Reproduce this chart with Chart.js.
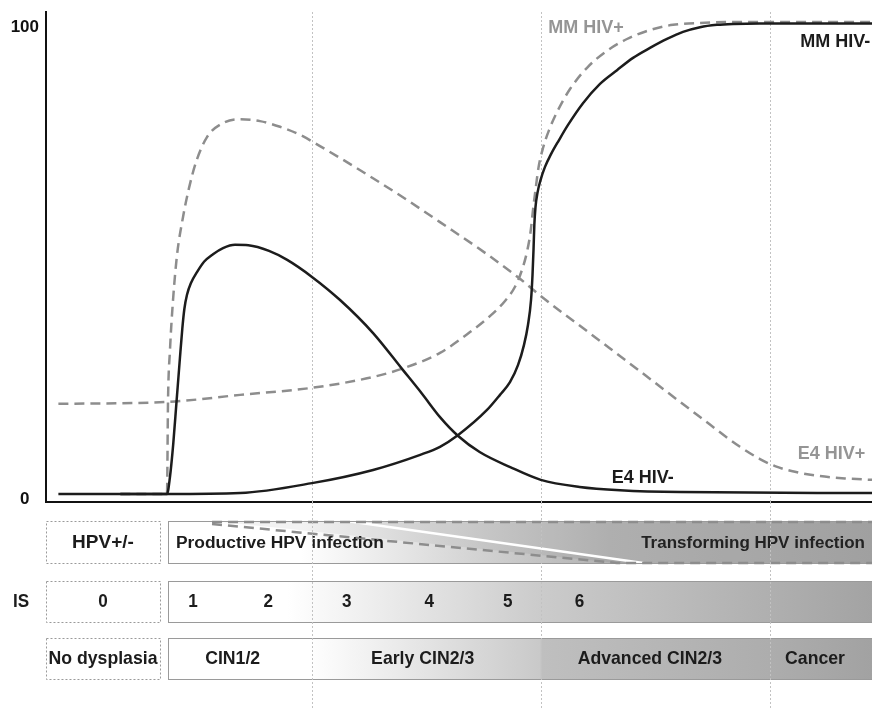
<!DOCTYPE html>
<html lang="en">
<head>
<meta charset="UTF-8" />
<title>HPV progression and HIV</title>
<script src="https://cdn.jsdelivr.net/npm/chart.js"></script>
<style>
  * { margin: 0; padding: 0; box-sizing: border-box; }
  body { background: #fff; width: 872px; height: 710px; overflow: hidden; }
  .wrap { position: relative; width: 872px; height: 710px; }
</style>
</head>
<body>
<div class="wrap"><canvas id="chart"></canvas></div>
<script>
// curves as [progression, level] pairs
const e4HivNeg = [[1.5,0],[14.65,0],[15.0,3.5],[15.4,10.5],[15.8,19.5],[16.2,28.5],[16.5,35.0],[16.75,39.2],[17.07,42.2],[17.55,44.7],[18.28,47.0],[19.13,49.2],[20.22,50.8],[21.43,52.1],[22.88,52.8],[24.5,52.7],[27.0,51.5],[29.2,49.6],[32.2,46.0],[35.6,41.1],[39.6,34.1],[43.2,26.3],[45.5,21.3],[47.7,16.3],[49.9,12.3],[52.5,8.9],[56.2,5.7],[59.9,3.0],[64.6,1.5],[69.5,0.8],[76.8,0.4],[100,0.2]];
const e4HivPos = [[9.0,0],[14.65,0],[14.77,19.5],[15.01,30.5],[15.38,41.1],[15.86,50.6],[16.59,58.7],[17.31,64.8],[18.16,70.3],[19.49,75.6],[21.43,78.6],[23.49,79.4],[25.91,79.0],[28.33,77.8],[30.75,76.1],[33.17,73.7],[35.59,71.2],[39.59,66.9],[43.7,62.3],[47.7,57.6],[53.39,50.8],[57.38,45.6],[59.93,41.9],[65.5,34.5],[71.55,26.5],[79.18,16.3],[84.02,10.0],[86.44,7.4],[88.26,5.9],[90.68,4.7],[93.7,3.8],[96.73,3.3],[100,3.0]];
const mmHivNeg = [[9.0,0],[14.65,0],[23.5,0.2],[32.2,2.3],[39.6,5.1],[45.3,8.3],[47.7,10.0],[49.9,12.5],[53.39,17.8],[54.96,21.0],[56.17,23.7],[57.14,27.3],[57.87,31.6],[58.35,35.8],[58.72,41.1],[58.9,46.4],[59.02,51.7],[59.12,57.0],[59.26,60.8],[59.5,63.8],[59.87,66.5],[60.41,69.3],[61.14,72.0],[62.11,75.0],[63.2,78.2],[65.01,82.8],[67.07,86.9],[69.13,89.8],[71.07,92.4],[73.12,94.5],[75.18,96.4],[77.12,97.9],[79.18,98.9],[81.23,99.4],[83.17,99.6],[86.4,99.7],[100,99.7]];
const mmHivPos = [[1.5,19.1],[14.65,19.5],[23.5,21.0],[32.2,22.5],[39.6,24.8],[43.7,26.9],[47.7,29.9],[51.33,34.3],[53.75,37.7],[55.57,40.9],[56.78,43.9],[57.63,47.5],[58.23,51.3],[58.66,55.5],[58.96,60.2],[59.26,64.4],[59.62,69.1],[60.17,73.3],[60.9,77.1],[61.86,80.9],[63.44,85.8],[65.5,90.3],[67.92,93.9],[70.34,96.4],[73.12,98.3],[75.91,99.4],[79.18,99.8],[84.02,100.0],[100,100.0]];

const yTicks = [0, 100];
const stageLines = [32.2, 59.9, 87.7];

// curve names: text, x, y, align
const curveNames = [['MM HIV+',60.8,98.7,'left'],['MM HIV-',99.8,95.8,'right'],['E4 HIV-',68.5,3.3,'left'],['E4 HIV+',91.0,8.4,'left']];

const hpvLabels = ['HPV+/-', 'Productive HPV infection', 'Transforming HPV infection'];
const isLabels = ['0', '1', '2', '3', '4', '5', '6'];
const isPos = [6.9, 17.8, 26.9, 36.4, 46.4, 55.9, 64.6];
const cinLabels = ['No dysplasia', 'CIN1/2', 'Early CIN2/3', 'Advanced CIN2/3', 'Cancer'];
const cinPos = [6.9, 22.6, 45.6, 73.1, 93.1];

const FONT = '"Liberation Sans", Arial, sans-serif';
const BLACK = '#1c1c1c';
const GREY = '#8d8d8d';

function pts(arr) { return arr.map(p => ({ x: p[0], y: p[1] })); }

function label(ctx, text, x, y, align, color, size, squeeze) {
  ctx.save();
  ctx.font = 'bold ' + size + 'px ' + FONT;
  ctx.fillStyle = color;
  ctx.textAlign = align;
  ctx.textBaseline = 'middle';
  ctx.translate(x, y);
  ctx.scale(squeeze || 1, 1);
  ctx.fillText(text, 0, 0);
  ctx.restore();
}

function dottedBox(ctx, x0, y0, x1, y1) {
  ctx.save();
  ctx.strokeStyle = '#9a9a9a';
  ctx.lineWidth = 1;
  ctx.setLineDash([2, 2]);
  ctx.strokeRect(x0 + 0.5, y0 + 0.5, x1 - x0, y1 - y0);
  ctx.restore();
}

function stageDots(chart, y0, y1) {
  const { ctx, scales: { x } } = chart;
  ctx.save();
  ctx.strokeStyle = '#c2c2c2';
  ctx.lineWidth = 1;
  ctx.setLineDash([2, 2]);
  stageLines.forEach(v => {
    const px = Math.round(x.getPixelForValue(v)) + 0.5;
    ctx.beginPath();
    ctx.moveTo(px, y0);
    ctx.lineTo(px, y1);
    ctx.stroke();
  });
  ctx.restore();
}

const bands = {
  id: 'bands',
  beforeDatasetsDraw(chart) {
    stageDots(chart, chart.chartArea.top, chart.chartArea.bottom);
  },
  afterDatasetsDraw(chart) {
    const { ctx, scales: { x, y } } = chart;
    curveNames.forEach(c => {
      label(ctx, c[0], x.getPixelForValue(c[1]), y.getPixelForValue(c[2]), c[3],
        c[0].endsWith('+') ? '#959595' : BLACK, 18);
    });
  },
  afterDraw(chart) {
    const { ctx, scales: { x } } = chart;
    const px = v => x.getPixelForValue(v);
    const L = px(0), R = px(100), boxR = px(13.8), bL = px(14.77);
    const rows = [[521, 563], [581, 622], [638, 679]];

    // row 1: HPV infection
    let [t, b] = rows[0];
    dottedBox(ctx, L, t, boxR, b);
    const pTop = px(36.4), pBot = px(72.3);
    let g = ctx.createLinearGradient(bL, 0, pBot, 0);
    g.addColorStop(0, '#ffffff');
    g.addColorStop(0.28, '#ffffff');
    g.addColorStop(1, '#a9a9a9');
    ctx.fillStyle = g;
    ctx.beginPath();
    ctx.moveTo(bL, t); ctx.lineTo(pTop, t); ctx.lineTo(pBot, b); ctx.lineTo(bL, b);
    ctx.closePath(); ctx.fill();

    g = ctx.createLinearGradient(pTop, 0, R, 0);
    g.addColorStop(0, '#ececec');
    g.addColorStop(0.5, '#b9b9b9');
    g.addColorStop(1, '#a9a9a9');
    ctx.fillStyle = g;
    ctx.beginPath();
    ctx.moveTo(pTop, t); ctx.lineTo(R, t); ctx.lineTo(R, b); ctx.lineTo(pBot, b);
    ctx.closePath(); ctx.fill();

    const hTop = px(20.1), hBot = px(69.1);
    ctx.fillStyle = 'rgba(0,0,0,0.05)';
    ctx.beginPath();
    ctx.moveTo(hTop, t); ctx.lineTo(R, t); ctx.lineTo(R, b); ctx.lineTo(hBot, b);
    ctx.closePath(); ctx.fill();

    ctx.save();
    ctx.strokeStyle = '#ffffff';
    ctx.lineWidth = 2.5;
    ctx.beginPath(); ctx.moveTo(pTop, t); ctx.lineTo(pBot, b); ctx.stroke();
    ctx.strokeStyle = '#9a9a9a';
    ctx.lineWidth = 1;
    ctx.strokeRect(bL + 0.5, t + 0.5, R - bL, b - t);
    ctx.strokeStyle = GREY;
    ctx.lineWidth = 2.5;
    ctx.setLineDash([10, 6]);
    ctx.beginPath(); ctx.moveTo(hTop, t + 1); ctx.lineTo(R, t + 1); ctx.stroke();
    ctx.beginPath(); ctx.moveTo(hTop, t + 3); ctx.lineTo(hBot, b); ctx.lineTo(R, b); ctx.stroke();
    ctx.restore();

    label(ctx, hpvLabels[0], px(6.9), 543, 'center', BLACK, 19);
    label(ctx, hpvLabels[1], bL + 8, 543, 'left', BLACK, 17.4);
    label(ctx, hpvLabels[2], R - 7, 543, 'right', '#222', 17);

    // row 2: IS
    [t, b] = rows[1];
    dottedBox(ctx, L, t, boxR, b);
    g = ctx.createLinearGradient(bL, 0, R, 0);
    g.addColorStop(0, '#ffffff');
    g.addColorStop(0.17, '#ffffff');
    g.addColorStop(0.53, '#cbcbcb');
    g.addColorStop(1, '#a3a3a3');
    ctx.fillStyle = g;
    ctx.fillRect(bL, t, R - bL, b - t);
    ctx.strokeStyle = '#9a9a9a';
    ctx.lineWidth = 1;
    ctx.strokeRect(bL + 0.5, t + 0.5, R - bL, b - t);
    label(ctx, 'IS', 21, 602, 'center', BLACK, 19, 0.9);
    isLabels.forEach((s, i) => label(ctx, s, px(isPos[i]), 602, 'center', BLACK, 19, 0.9));

    // row 3: CIN grade
    [t, b] = rows[2];
    dottedBox(ctx, L, t, boxR, b);
    g = ctx.createLinearGradient(bL, 0, R, 0);
    g.addColorStop(0, '#ffffff');
    g.addColorStop(0.2, '#ffffff');
    g.addColorStop(0.528, '#c9c9c9');
    g.addColorStop(0.532, '#bfbfbf');
    g.addColorStop(0.855, '#adadad');
    g.addColorStop(1, '#a2a2a2');
    ctx.fillStyle = g;
    ctx.fillRect(bL, t, R - bL, b - t);
    ctx.strokeRect(bL + 0.5, t + 0.5, R - bL, b - t);
    cinLabels.forEach((s, i) => label(ctx, s, px(cinPos[i]), 659, 'center', BLACK, 19, 0.93));

    stageDots(chart, chart.chartArea.bottom, chart.height);
  }
};

new Chart(document.getElementById('chart'), {
  type: 'line',
  data: {
    datasets: [
      { label: 'E4 HIV-', data: pts(e4HivNeg), borderColor: BLACK, borderWidth: 2.5 },
      { label: 'MM HIV-', data: pts(mmHivNeg), borderColor: BLACK, borderWidth: 2.5 },
      { label: 'E4 HIV+', data: pts(e4HivPos), borderColor: GREY, borderWidth: 2.5, borderDash: [10, 6] },
      { label: 'MM HIV+', data: pts(mmHivPos), borderColor: GREY, borderWidth: 2.5, borderDash: [10, 6] }
    ]
  },
  options: {
    responsive: true,
    maintainAspectRatio: false,
    animation: false,
    layout: { padding: { top: 12, right: 0, bottom: 0, left: 0 } },
    elements: {
      point: { radius: 0 },
      line: { cubicInterpolationMode: 'monotone', fill: false, borderCapStyle: 'butt' }
    },
    scales: {
      x: {
        type: 'linear', min: 0, max: 100,
        grid: { display: false, drawTicks: false },
        border: { display: true, color: '#111', width: 2 },
        ticks: { display: false },
        afterFit: s => { s.height = 208; s.paddingLeft = 0; s.paddingRight = 0; }
      },
      y: {
        min: -1.695, max: 102.12,
        grid: { display: false, drawTicks: false },
        border: { display: true, color: '#111', width: 2 },
        afterBuildTicks: s => { s.ticks = yTicks.map(v => ({ value: v })); },
        ticks: { color: '#111', padding: 7, crossAlign: 'center', labelOffset: 5, font: { family: FONT, size: 17, weight: 'bold' } },
        afterFit: s => { s.width = 46; s.paddingTop = 0; s.paddingBottom = 0; }
      }
    },
    plugins: { legend: { display: false }, tooltip: { enabled: false } }
  },
  plugins: [bands]
});
</script>
</body>
</html>
